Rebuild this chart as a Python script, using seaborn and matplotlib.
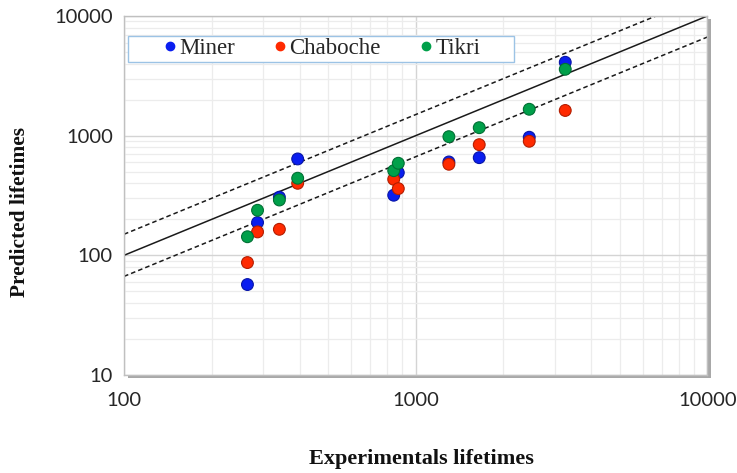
import matplotlib
matplotlib.use("Agg")
import matplotlib.pyplot as plt
from matplotlib.patches import Rectangle
from matplotlib.lines import Line2D
from matplotlib.ticker import LogLocator, NullFormatter, FixedLocator, FixedFormatter
import seaborn as sns
import pandas as pd
import numpy as np

# ---- data ----
exp_life = [265, 287, 341, 394, 841, 872, 1300, 1652, 2452, 3258]
miner    = [57, 188, 306, 639, 318, 491, 603, 655, 970, 4105]
chaboche = [87, 157, 165, 400, 432, 361, 577, 841, 898, 1624]
tikri    = [143, 238, 290, 441, 510, 588, 981, 1166, 1662, 3587]
models = ["Miner", "Chaboche", "Tikri"]
colors = ["#0a1ef0", "#ff2a00", "#00a04a"]
x_ticks = [100, 1000, 10000]
y_ticks = [10, 100, 1000, 10000]
band_factor = 1.5
ref_x = [100, 10000]

df = pd.DataFrame({
    "exp": exp_life * 3,
    "pred": miner + chaboche + tikri,
    "model": ["Miner"] * len(miner) + ["Chaboche"] * len(chaboche) + ["Tikri"] * len(tikri),
})

sns.set_theme(style="white")
plt.rcParams["font.family"] = ["Lato", "DejaVu Sans"]

W, H = 737, 473
fig = plt.figure(figsize=(W / 100, H / 100), dpi=100)
x0, x1 = 124 / W, 707.3 / W
y0, y1 = 1 - 375 / H, 1 - 16 / H
ax = fig.add_axes([x0, y0, x1 - x0, y1 - y0])

# shadow behind plot area
fig.add_artist(Rectangle((x0 + 4 / W, y0 - 3 / H), x1 - x0, y1 - y0,
                         transform=fig.transFigure, facecolor="#a8a8a8",
                         edgecolor="none", zorder=-1))

# reference lines
rx = np.array(ref_x, dtype=float)
ax.plot(rx, rx, color="#1a1a1a", lw=1.1, zorder=2)
ax.plot(rx, rx * band_factor, color="#1a1a1a", lw=1.1, ls=(0, (3, 2)), zorder=2)
ax.plot(rx, rx / band_factor, color="#1a1a1a", lw=1.1, ls=(0, (3, 2)), zorder=2)

sns.scatterplot(data=df, x="exp", y="pred", hue="model", hue_order=models,
                palette=colors, s=72, linewidth=0.8, ax=ax, zorder=3, legend=False)
coll = ax.collections[-1]
fc = np.array(coll.get_facecolors())
ec = fc.copy()
ec[:, :3] *= 0.7
coll.set_edgecolors(ec)

ax.set_xscale("log")
ax.set_yscale("log")
ax.set_xlim(100, 10000)
ax.set_ylim(10, 10000)

ax.xaxis.set_major_locator(FixedLocator(x_ticks))
ax.xaxis.set_major_formatter(FixedFormatter([str(v) for v in x_ticks]))
ax.yaxis.set_major_locator(FixedLocator(y_ticks))
ax.yaxis.set_major_formatter(FixedFormatter([str(v) for v in y_ticks]))
ax.xaxis.set_minor_locator(LogLocator(base=10, subs=np.arange(2, 10)))
ax.yaxis.set_minor_locator(LogLocator(base=10, subs=np.arange(2, 10)))
ax.xaxis.set_minor_formatter(NullFormatter())
ax.yaxis.set_minor_formatter(NullFormatter())

ax.grid(which="major", color="#d4d4d4", lw=1.0, zorder=0)
ax.grid(which="minor", color="#ececec", lw=0.9, zorder=0)
ax.set_axisbelow(True)

ax.tick_params(which="both", length=0)
ax.tick_params(axis="x", pad=12, labelsize=14.5, labelcolor="#262626")
ax.tick_params(axis="y", pad=8, labelsize=14.5, labelcolor="#262626")

for s in ax.spines.values():
    s.set_color("#c0c0c0")
    s.set_linewidth(1.0)

# axis titles
fig.text(421 / W, 1 - 459 / H, "Experimentals lifetimes", family="Liberation Serif",
         fontweight="bold", fontsize=16, color="#111111", ha="center", va="center")
fig.text(20 / W, 1 - 212 / H, "Predicted lifetimes", family="Liberation Serif",
         fontweight="bold", fontsize=15.4, color="#111111", ha="center", va="center",
         rotation=90)
ax.set_xlabel("")
ax.set_ylabel("")

# legend: frame + three entries
fig.add_artist(Rectangle((128 / W, 1 - 62 / H), (514 - 128) / W, 26 / H,
                         transform=fig.transFigure, facecolor="white",
                         edgecolor="#9cc3e5", lw=1.0, zorder=5))
marker_px = [170, 280, 426]
for name, col, mx in zip(models, colors, marker_px):
    h = Line2D([], [], marker="o", ls="none", markersize=6,
               markerfacecolor=col, markeredgecolor=col)
    lg = fig.legend([h], [name], loc="center left",
                    bbox_to_anchor=((mx - 6.7) / W, 1 - 48.5 / H),
                    bbox_transform=fig.transFigure, frameon=False,
                    prop={"family": "Liberation Serif", "size": 16.5},
                    handlelength=0.6, handletextpad=0.1, borderpad=0,
                    borderaxespad=0)
    lg.set_zorder(6)

fig.savefig("out.png", dpi=100)
